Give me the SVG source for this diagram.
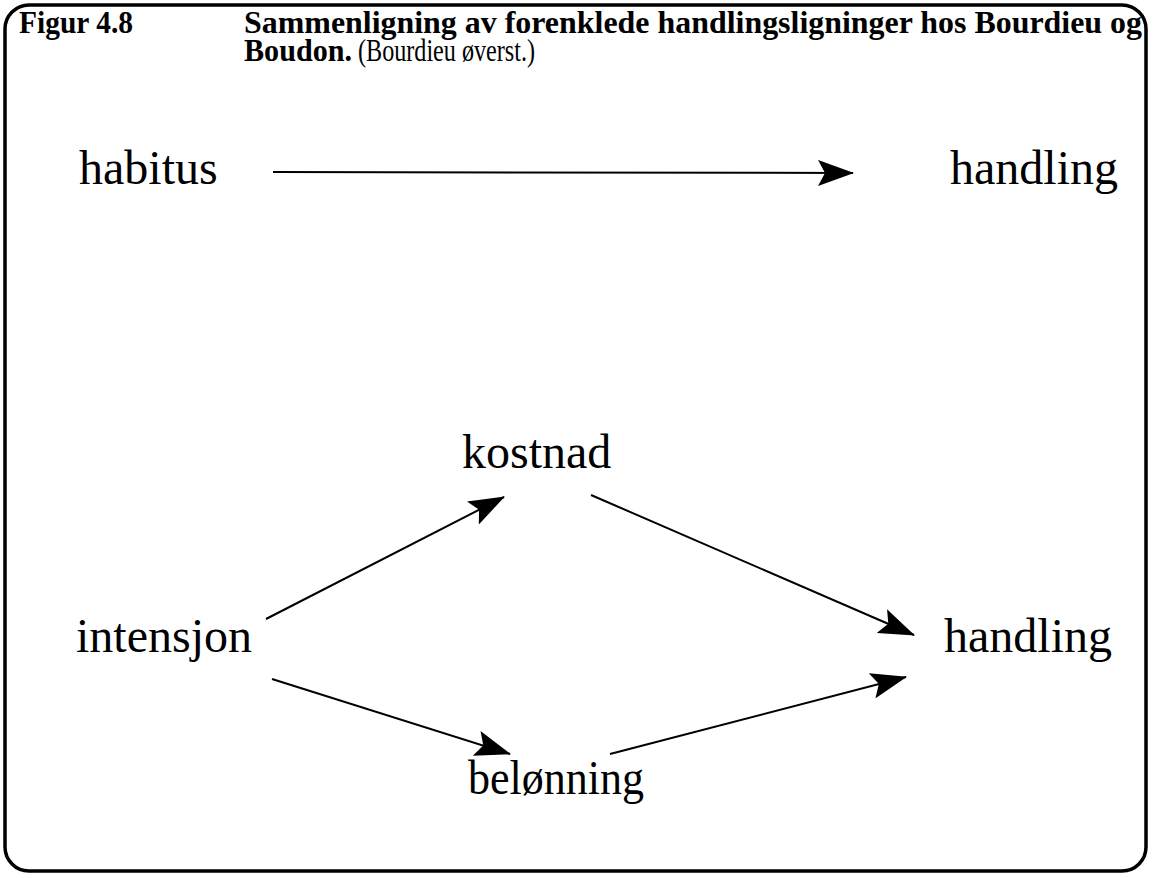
<svg xmlns="http://www.w3.org/2000/svg" width="1156" height="878" viewBox="0 0 1156 878">
  <style>
    .frame { fill: #ffffff; stroke: #000000; stroke-width: 3.5; }
    .title { font-family: "Liberation Serif", "Times New Roman", serif; font-size: 32px; fill: #000; }
    .bold { font-weight: bold; }
    .term { font-family: "Liberation Serif", "Times New Roman", serif; font-size: 48px; fill: #000; }
    .link { stroke: #000; stroke-width: 2; fill: none; marker-end: url(#head); }
  </style>
  <defs>
    <marker id="head" viewBox="0 0 36 26" refX="35" refY="13" markerWidth="36" markerHeight="26" markerUnits="userSpaceOnUse" orient="auto">
      <path d="M0,0 L36,13 L0,26 L7,13 Z" fill="#000"/>
    </marker>
  </defs>

  <rect class="frame" x="5" y="5" width="1141" height="866" rx="24" ry="24"/>

  <g id="caption">
    <text class="title bold" x="19" y="33" textLength="114" lengthAdjust="spacingAndGlyphs">Figur 4.8</text>
    <text class="title bold" x="244" y="33" textLength="898" lengthAdjust="spacingAndGlyphs">Sammenligning av forenklede handlingsligninger hos Bourdieu og</text>
    <text class="title bold" x="244" y="61" textLength="108" lengthAdjust="spacingAndGlyphs">Boudon.</text>
    <text class="title" x="358" y="61" textLength="177" lengthAdjust="spacingAndGlyphs">(Bourdieu øverst.)</text>
  </g>

  <g id="habitus"><text class="term" x="79" y="184">habitus</text></g>
  <g id="handling-top"><text class="term" x="950" y="184">handling</text></g>
  <g id="intensjon"><text class="term" x="76" y="652">intensjon</text></g>
  <g id="kostnad"><text class="term" x="462" y="468">kostnad</text></g>
  <g id="belonning"><text class="term" x="468" y="794" textLength="176" lengthAdjust="spacingAndGlyphs">belønning</text></g>
  <g id="handling-bottom"><text class="term" x="944" y="652">handling</text></g>

  <g id="connectors">
    <line class="link" x1="273" y1="172" x2="853" y2="173"/>
    <line class="link" x1="266" y1="619" x2="504" y2="497"/>
    <line class="link" x1="591" y1="495" x2="914" y2="635"/>
    <line class="link" x1="272" y1="679" x2="510" y2="754"/>
    <line class="link" x1="610" y1="754" x2="906" y2="677"/>
  </g>
</svg>
